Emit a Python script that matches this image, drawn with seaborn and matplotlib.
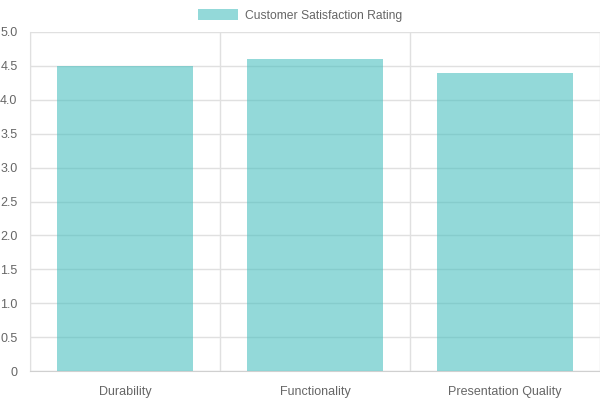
import matplotlib
matplotlib.use("Agg")
import matplotlib.pyplot as plt
import seaborn as sns
import pandas as pd
import numpy as np

# chart data
categories = ["Durability", "Functionality", "Presentation Quality"]
ratings = [4.5, 4.6, 4.4]
series_label = "Customer Satisfaction Rating"
y_ticks = np.arange(0, 5.01, 0.5)
y_tick_labels = ["0"] + [f"{v:.1f}" for v in y_ticks[1:]]

df = pd.DataFrame({"category": categories, "rating": ratings})

sns.set_style("white")
plt.rcParams["font.family"] = ["Liberation Sans", "DejaVu Sans"]

grid_color = "#e0e0e0"
text_color = "#666666"

fig = plt.figure(figsize=(6, 4), dpi=100)
ax = fig.add_axes([30 / 600, 1 - 371 / 400, 570 / 600, 339 / 400])

sns.barplot(data=df, x="category", y="rating", ax=ax,
            color=(75 / 255, 192 / 255, 192 / 255), alpha=0.6,
            saturation=1, width=0.72, linewidth=0,
            label=series_label, zorder=3)

ax.set_xlim(-0.5, len(categories) - 0.5)
ax.set_ylim(0, 5)
ax.set_yticks(y_ticks)
ax.set_yticklabels(y_tick_labels)
ax.set_xlabel("")
ax.set_ylabel("")

# vertical grid at category boundaries
ax.set_xticks(np.arange(len(categories) + 1) - 0.5, minor=True)
ax.grid(True, which="minor", axis="x", color=grid_color, linewidth=1, zorder=0)
ax.grid(True, which="major", axis="y", color=grid_color, linewidth=1, zorder=0)
ax.tick_params(axis="x", which="major", length=0, pad=11, labelsize=9, labelcolor=text_color)
ax.tick_params(axis="x", which="minor", length=8, color=grid_color, width=1)
ax.tick_params(axis="y", which="major", length=5, color=grid_color, width=1, pad=4,
               labelsize=9, labelcolor=text_color)

for side in ["top", "right"]:
    ax.spines[side].set_visible(False)
ax.spines["left"].set_color(grid_color)
ax.spines["bottom"].set_color("#d0d0d0")

handles, labels = ax.get_legend_handles_labels()
if ax.get_legend() is not None:
    ax.get_legend().remove()
fig.legend(handles[:1], labels[:1], loc="center", bbox_to_anchor=(0.5, 1 - 15.5 / 400),
           frameon=False, fontsize=8.7, labelcolor=text_color,
           handlelength=3.3, handleheight=1.0, handletextpad=0.55, borderpad=0)

fig.savefig("out.png", dpi=100)
